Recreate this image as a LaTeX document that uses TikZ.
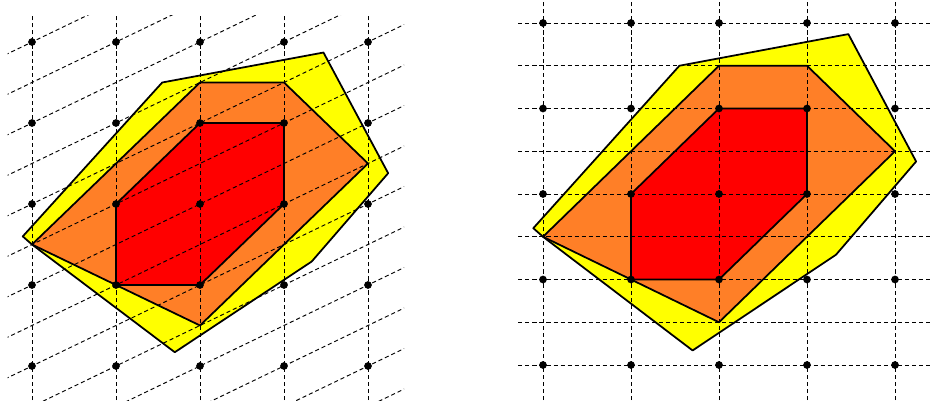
\documentclass[tikz,border=0pt]{standalone}
\usepackage{tikz}

\definecolor{hullyellow}{RGB}{255,255,0}
\definecolor{hullorange}{RGB}{255,127,39}
\definecolor{hullred}{RGB}{255,0,0}

% the three nested polygons, in grid units
\newcommand{\drawhulls}{%
    \draw[hull, fill=hullyellow] (-0.11,1.6) -- (0,1.5) -- (1.70,0.17) -- (3.33,1.29)
        -- (4.24,2.38) -- (3.47,3.87) -- (1.55,3.50) -- cycle;
    \draw[hull, fill=hullorange] (0,1.5) -- (2,3.5) -- (3,3.5) -- (4,2.5) -- (2,0.5) -- (1,1) -- cycle;
    \draw[hull, fill=hullred] (1,2) -- (2,3) -- (3,3) -- (3,2) -- (2,1) -- (1,1) -- cycle;
}

\begin{document}
\begin{tikzpicture}[
    hull/.style={line width=1.5pt, line join=round},
    gridline/.style={dashed, dash pattern=on 3.5pt off 2.5pt, line width=0.8pt},
    latpt/.style={fill=black}
]
    \useasboundingbox (0,0) rectangle (27.9,12.18);

    % Left: sheared lattice
    \begin{scope}[shift={(0.96,1.2)}, x=2.52cm, y=2.43cm]
        \drawhulls
        \begin{scope}
            \clip (-0.29,-0.42) rectangle (4.43,4.33);
            \foreach \k in {-6,...,9}
                \draw[gridline] (-1,{\k/2-0.5}) -- (5,{\k/2+2.5});
        \end{scope}
        \foreach \i in {0,...,4}
            \draw[gridline] (\i,-0.42) -- (\i,4.33);
        \foreach \i in {0,...,4}
            \foreach \j in {0,...,4}
                \fill[latpt] (\i,\j) circle (3.3pt);
    \end{scope}

    % Right: square lattice
    \begin{scope}[shift={(16.29,1.23)}, x=2.64cm, y=2.565cm]
        \drawhulls
        \foreach \k in {0,...,8}
            \draw[gridline] (-0.28,\k/2) -- (4.4,\k/2);
        \foreach \i in {0,...,4}
            \draw[gridline] (\i,-0.41) -- (\i,4.27);
        \foreach \i in {0,...,4}
            \foreach \j in {0,...,4}
                \fill[latpt] (\i,\j) circle (3.3pt);
    \end{scope}
\end{tikzpicture}
\end{document}
